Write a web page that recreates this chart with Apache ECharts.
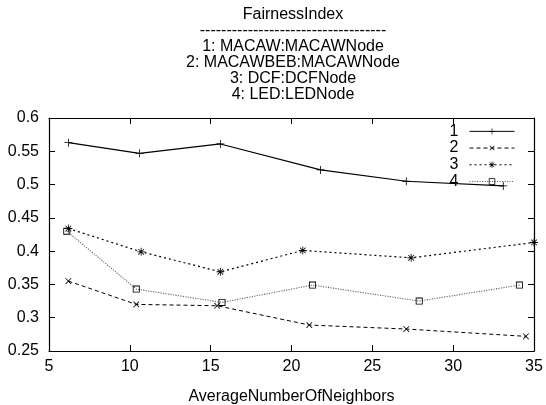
<!DOCTYPE html>
<html>
<head>
<meta charset="utf-8">
<script src="https://cdn.jsdelivr.net/npm/echarts@6/dist/echarts.min.js"></script>
<style>
  html, body { margin: 0; padding: 0; background: #fff; }
  #chart { width: 546px; height: 405px; }
</style>
</head>
<body>
<div id="chart"></div>
<script>
// 数据：每条曲线的 x（平均邻居数）和 y（公平指数）
var seriesNames = ['1', '2', '3', '4'];
var xs1 = [6.2, 10.6, 15.6, 21.8, 27.1, 33.1];
var ys1 = [0.563, 0.547, 0.561, 0.522, 0.505, 0.498];
var xs2 = [6.2, 10.4, 15.4, 21.1, 27.1, 34.5];
var ys2 = [0.355, 0.320, 0.318, 0.289, 0.283, 0.272];
var xs3 = [6.2, 10.7, 15.6, 20.7, 27.4, 35.0];
var ys3 = [0.434, 0.399, 0.369, 0.401, 0.390, 0.413];
var xs4 = [6.1, 10.4, 15.7, 21.3, 27.9, 34.1];
var ys4 = [0.430, 0.343, 0.323, 0.349, 0.325, 0.349];
var xTicks = [5, 10, 15, 20, 25, 30, 35];
var yTicks = [0.25, 0.3, 0.35, 0.4, 0.45, 0.5, 0.55, 0.6];

var titleLines = [
    'FairnessIndex',
    '-----------------------------------',
    '1: MACAW:MACAWNode',
    '2: MACAWBEB:MACAWNode',
    '3: DCF:DCFNode',
    '4: LED:LEDNode'
];

function pairs(xs, ys) {
    return xs.map(function (x, i) { return [x, ys[i]]; });
}

// 标记形状（gnuplot 风格的 + x * 和空心方框）
var plusPath = 'path://M-0.5,-5L0.5,-5L0.5,-0.5L5,-0.5L5,0.5L0.5,0.5L0.5,5L-0.5,5L-0.5,0.5L-5,0.5L-5,-0.5L-0.5,-0.5Z';
var starPath = 'path://M-0.5,-5L0.5,-5L0.5,-0.5L5,-0.5L5,0.5L0.5,0.5L0.5,5L-0.5,5L-0.5,0.5L-5,0.5L-5,-0.5L-0.5,-0.5Z' +
    'M-3.9,-3.2L-3.2,-3.9L0,-0.7L3.2,-3.9L3.9,-3.2L0.7,0L3.9,3.2L3.2,3.9L0,0.7L-3.2,3.9L-3.9,3.2L-0.7,0Z';
var boxPath = 'path://M-5,-5L5,-5L5,5L-5,5ZM-3.8,-3.8L-3.8,3.8L3.8,3.8L3.8,-3.8Z';

var fontFamily = '"Liberation Sans", Arial, sans-serif';
var dataPairs = [pairs(xs1, ys1), pairs(xs2, ys2), pairs(xs3, ys3), pairs(xs4, ys4)];
var styles = [
    { color: '#000', type: 'solid', width: 1.2, symbol: plusPath, size: 8, rotate: 0 },
    { color: '#000', type: [4, 3], width: 1, symbol: plusPath, size: 8, rotate: 45 },
    { color: '#000', type: [2, 3], width: 1.2, symbol: starPath, size: 8, rotate: 0 },
    { color: '#666', type: [1.2, 1.3], width: 1.1, symbol: boxPath, size: 7, rotate: 0 }
];

var myChart = echarts.init(document.getElementById('chart'));

var seriesList = seriesNames.map(function (name, i) {
    var s = styles[i];
    return {
        name: name,
        type: 'line',
        data: dataPairs[i],
        symbol: s.symbol,
        symbolSize: s.size,
        symbolRotate: s.rotate,
        showAllSymbol: true,
        animation: false,
        lineStyle: { color: s.color, type: s.type, width: s.width },
        itemStyle: { color: '#000', borderWidth: 0 }
    };
});

var option = {
    animation: false,
    backgroundColor: '#fff',
    title: {
        text: titleLines.join('\n'),
        left: 293,
        textAlign: 'center',
        top: 7,
        padding: 0,
        textStyle: {
            fontFamily: fontFamily,
            fontSize: 16,
            fontWeight: 'normal',
            color: '#000',
            lineHeight: 16
        }
    },
    legend: {
        orient: 'vertical',
        right: 31,
        top: 123,
        padding: 0,
        align: 'right',
        itemWidth: 45,
        itemHeight: 8,
        itemGap: 0,
        lineStyle: { width: 1 },
        textStyle: {
            fontFamily: fontFamily, fontSize: 16, color: '#000',
            lineHeight: 16.7, padding: [0, 6, 0, 0]
        },
        data: seriesNames
    },
    grid: { left: 49, right: 12, top: 118, bottom: 54, containLabel: false, outerBoundsMode: 'none' },
    xAxis: [{
        type: 'value',
        min: xTicks[0],
        max: xTicks[xTicks.length - 1],
        interval: 5,
        name: 'AverageNumberOfNeighbors',
        nameLocation: 'middle',
        nameGap: 38,
        nameTextStyle: { fontFamily: fontFamily, fontSize: 16, color: '#000' },
        axisLine: { lineStyle: { color: '#000', width: 1.2 } },
        axisTick: { inside: true, length: 6, lineStyle: { color: '#000' } },
        axisLabel: { fontFamily: fontFamily, fontSize: 16, color: '#000', margin: 8 },
        splitLine: { show: false }
    }, {
        type: 'value',
        position: 'top',
        min: xTicks[0],
        max: xTicks[xTicks.length - 1],
        interval: 5,
        axisLine: { lineStyle: { color: '#000', width: 1.2 } },
        axisTick: { inside: true, length: 6, lineStyle: { color: '#000' } },
        axisLabel: { show: false },
        splitLine: { show: false }
    }],
    yAxis: [{
        type: 'value',
        min: yTicks[0],
        max: yTicks[yTicks.length - 1],
        interval: 0.05,
        axisLine: { show: true, lineStyle: { color: '#000', width: 1.2 } },
        axisTick: { show: true, inside: true, length: 6, lineStyle: { color: '#000' } },
        axisLabel: {
            fontFamily: fontFamily, fontSize: 16, color: '#000', margin: 10,
            formatter: function (v) { return String(+v.toFixed(2)); }
        },
        splitLine: { show: false }
    }, {
        type: 'value',
        position: 'right',
        min: yTicks[0],
        max: yTicks[yTicks.length - 1],
        interval: 0.05,
        axisLine: { show: true, lineStyle: { color: '#000', width: 1.2 } },
        axisTick: { show: true, inside: true, length: 6, lineStyle: { color: '#000' } },
        axisLabel: { show: false },
        splitLine: { show: false }
    }],
    series: seriesList
};

myChart.setOption(option);
</script>
</body>
</html>
